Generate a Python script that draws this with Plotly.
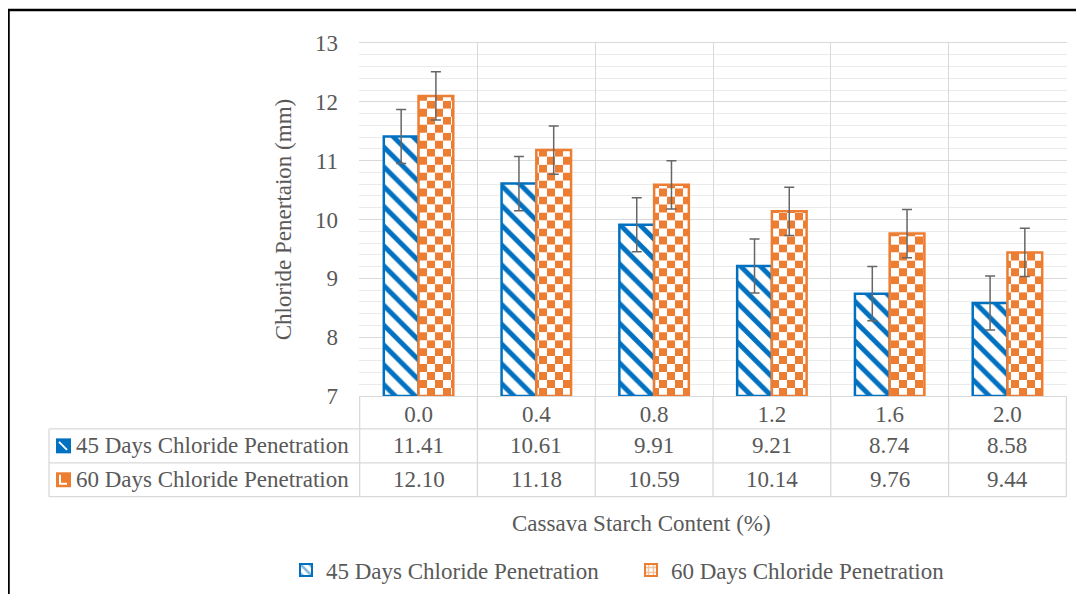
import plotly.graph_objects as go

# ---------------- data ----------------
categories = ["0.0", "0.4", "0.8", "1.2", "1.6", "2.0"]
days45 = [11.41, 10.61, 9.91, 9.21, 8.74, 8.58]
days60 = [12.10, 11.18, 10.59, 10.14, 9.76, 9.44]
err45 = [0.46, 0.46, 0.46, 0.46, 0.46, 0.46]
err60 = [0.41, 0.41, 0.41, 0.41, 0.41, 0.41]
series_names = ["45 Days Chloride Penetration", "60 Days Chloride Penetration"]
y_title = "Chloride Penertaion (mm)"
x_title = "Cassava Starch Content (%)"

# ---------------- style ----------------
BLUE = "#0070C0"
ORANGE = "#ED7D31"
TXT = "#595959"
GRID = "#d9d9d9"
MINOR = "#ebebeb"
FONT = "Times New Roman, Liberation Serif, DejaVu Serif, serif"
FS = 23
W, H = 1084, 594
OFF = 8  # page body margin
PLOT_L, PLOT_R, PLOT_T, PLOT_B = 359 - OFF, 1067 - OFF, 43 - OFF, 397 - OFF
L, R, T, B = PLOT_L, W - PLOT_R, PLOT_T, H - PLOT_B
PW, PH = PLOT_R - PLOT_L, PLOT_B - PLOT_T
Y_MIN, Y_MAX = 7, 13
CHECK_PX = 8  # checker square size in px

def px_x(px):  # reference-screen px -> paper
    return (px - OFF - L) / PW


def px_y(py):
    return (PLOT_B - (py - OFF)) / PH


# checkerboard for the 60-day bars: horizontal bands alternately filled with
# vertical stripes and inverted vertical stripes
band = (Y_MAX - Y_MIN) * CHECK_PX / PH
bands = {0: ([], [], []), 1: ([], [], [])}
for c, v in zip(categories, days60):
    k = 0
    lo = Y_MIN
    while lo < v - 1e-9:
        hi = min(Y_MIN + (k + 1) * band, v)
        xs, ys, bs = bands[k % 2]
        xs.append(c)
        ys.append(hi - lo)
        bs.append(lo)
        k += 1
        lo = Y_MIN + k * band

fig = go.Figure()

# 45 days bars
fig.add_trace(go.Bar(
    x=categories, y=[v - Y_MIN for v in days45], base=Y_MIN, name=series_names[0],
    offsetgroup="a", showlegend=False,
    marker=dict(color="white", line=dict(color=BLUE, width=2.5),
                pattern=dict(shape="\\", fgcolor=BLUE, bgcolor="white",
                             size=14, solidity=0.35, fillmode="replace")),
    error_y=dict(type="data", array=err45, color="#666666", thickness=1.5, width=5),
))

# 60 days checkerboard bands
for idx, (fg, bg) in enumerate([(ORANGE, "white"), ("white", ORANGE)]):
    xs, ys, bs = bands[idx]
    fig.add_trace(go.Bar(
        x=xs, y=ys, base=bs, offsetgroup="b", showlegend=False,
        marker=dict(color=bg, line=dict(width=0),
                    pattern=dict(shape="|", fgcolor=fg, bgcolor=bg,
                                 size=2 * CHECK_PX, solidity=0.5, fillmode="replace")),
        hoverinfo="skip",
    ))

# 60 days outline + error bars
fig.add_trace(go.Bar(
    x=categories, y=[v - Y_MIN for v in days60], base=Y_MIN, name=series_names[1],
    offsetgroup="b", showlegend=False,
    marker=dict(color="rgba(0,0,0,0)", line=dict(color=ORANGE, width=2.5)),
    error_y=dict(type="data", array=err60, color="#666666", thickness=1.5, width=5),
))

# legend-only traces
fig.add_trace(go.Bar(
    x=[categories[0]], y=[None], name=series_names[0], offsetgroup="a",
    marker=dict(color="white", line=dict(color=BLUE, width=2),
                pattern=dict(shape="\\", fgcolor=BLUE, bgcolor="white", size=8, solidity=0.4)),
))
fig.add_trace(go.Bar(
    x=[categories[0]], y=[None], name=series_names[1], offsetgroup="b",
    marker=dict(color="white", line=dict(color=ORANGE, width=2),
                pattern=dict(shape="+", fgcolor=ORANGE, bgcolor="white", size=6, solidity=0.5)),
))

shapes = []
line_style = dict(color=GRID, width=1.3)
# table vertical lines (category boundaries) below plot
for i in range(len(categories) + 1):
    shapes.append(dict(type="line", xref="x", yref="paper", x0=i - 0.5, x1=i - 0.5,
                       y0=0, y1=px_y(498), line=line_style, layer="below"))
# table left edge
shapes.append(dict(type="line", xref="paper", yref="paper", x0=px_x(49), x1=px_x(49),
                   y0=px_y(430), y1=px_y(498), line=line_style))
# horizontal table lines
for py in (430, 464, 498):
    shapes.append(dict(type="line", xref="paper", yref="paper", x0=px_x(49), x1=1,
                       y0=px_y(py), y1=px_y(py), line=line_style))
# outer border (left and top)
shapes.append(dict(type="line", xref="paper", yref="paper", x0=px_x(8.5), x1=px_x(8.5),
                   y0=px_y(9), y1=px_y(610), line=dict(color="black", width=2.5)))
shapes.append(dict(type="line", xref="paper", yref="paper", x0=px_x(7.5), x1=px_x(1100),
                   y0=px_y(10), y1=px_y(10), line=dict(color="black", width=2.5)))
# small legend keys in the data table
for py, col in ((447, BLUE), (481, ORANGE)):
    shapes.append(dict(type="rect", xref="paper", yref="paper", x0=px_x(56), x1=px_x(71),
                       y0=px_y(py - 7.5), y1=px_y(py + 7.5), fillcolor=col,
                       line=dict(width=0)))
shapes.append(dict(type="line", xref="paper", yref="paper", x0=px_x(59), x1=px_x(67),
                   y0=px_y(443), y1=px_y(451), line=dict(color="white", width=2)))
shapes.append(dict(type="path", xref="paper", yref="paper",
                   path=f"M{px_x(60)},{px_y(476)} L{px_x(60)},{px_y(485)} L{px_x(67)},{px_y(485)}",
                   line=dict(color="white", width=2)))

annotations = []
tfont = dict(family=FONT, size=FS, color=TXT)
for row, (vals, py) in enumerate(((days45, 447), (days60, 481))):
    annotations.append(dict(xref="paper", yref="paper", x=px_x(74), y=px_y(py),
                            xanchor="left", yanchor="middle", showarrow=False,
                            text=series_names[row], font=tfont))
    for i, v in enumerate(vals):
        annotations.append(dict(xref="x", yref="paper", x=i, y=px_y(py),
                                xanchor="center", yanchor="middle", showarrow=False,
                                text=f"{v:.2f}", font=tfont))
annotations.append(dict(xref="paper", yref="paper", x=px_x(641), y=px_y(525),
                        xanchor="center", yanchor="middle", showarrow=False,
                        text=x_title, font=tfont))

fig.update_layout(
    width=W, height=H,
    margin=dict(l=L, r=R, t=T, b=B, pad=0),
    paper_bgcolor="white", plot_bgcolor="white",
    barmode="group", bargap=0.41, bargroupgap=0,
    font=dict(family=FONT, size=FS, color=TXT),
    shapes=shapes, annotations=annotations,
    legend=dict(orientation="h", x=px_x(286), xanchor="left", y=px_y(570),
                yanchor="middle", font=tfont, itemwidth=30,
                entrywidth=300, entrywidthmode="pixels",
                bgcolor="rgba(0,0,0,0)"),
    xaxis=dict(type="category", tickson="boundaries", showgrid=True, gridcolor=GRID,
               gridwidth=1.3, showline=True, linecolor=GRID, linewidth=1.3, mirror=True,
               ticks="", tickfont=tfont, ticklabelstandoff=-3, zeroline=False,
               fixedrange=True),
    yaxis=dict(range=[Y_MIN, Y_MAX], dtick=1, tick0=7, showgrid=True, gridcolor=GRID,
               gridwidth=1.3, zeroline=False, ticks="", tickfont=tfont,
               ticklabelstandoff=20,
               minor=dict(dtick=0.2, showgrid=True, gridcolor=MINOR, gridwidth=1),
               title=dict(text=y_title, font=tfont, standoff=16)),
)

fig.write_html("out.html")
